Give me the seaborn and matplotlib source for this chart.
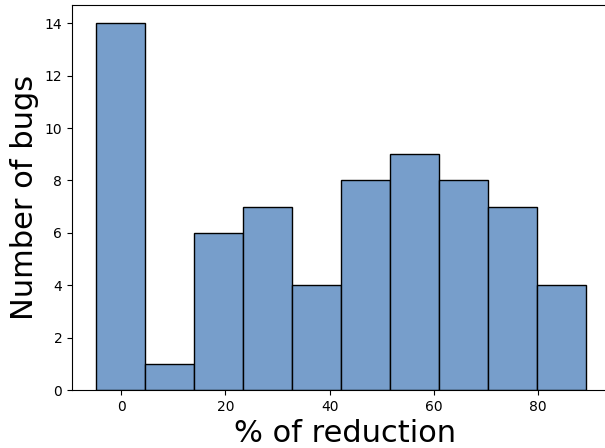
import numpy as np
import pandas as pd
import matplotlib
matplotlib.use("Agg")
import matplotlib.pyplot as plt
import seaborn as sns

# histogram bins
bin_edges = [-4.74, 4.66, 14.06, 23.46, 32.86, 42.26, 51.66, 61.06, 70.46, 79.86, 89.26]
bug_counts = [14, 1, 6, 7, 4, 8, 9, 8, 7, 4]

centers = [(a + b) / 2 for a, b in zip(bin_edges[:-1], bin_edges[1:])]
df = pd.DataFrame({"reduction": centers, "count": bug_counts})

fig = plt.figure(figsize=(6.05, 4.48), dpi=100)
# right spine falls just outside the saved image, as in the original
ax = fig.add_axes([72 / 605, 58 / 448, 547 / 605, 385 / 448])

sns.histplot(data=df, x="reduction", weights="count", bins=bin_edges,
             color="#779ECB", alpha=1, edgecolor="black", linewidth=1, ax=ax)

ax.set_xlabel("% of reduction", fontsize=22)
ax.set_ylabel("Number of bugs", fontsize=22)
ax.set_xticks([0, 20, 40, 60, 80])
ax.set_yticks(range(0, 15, 2))
ax.set_xlim(-9.43, 95.5)
ax.set_ylim(0, 14.7)

fig.savefig("out.png", dpi=100)
